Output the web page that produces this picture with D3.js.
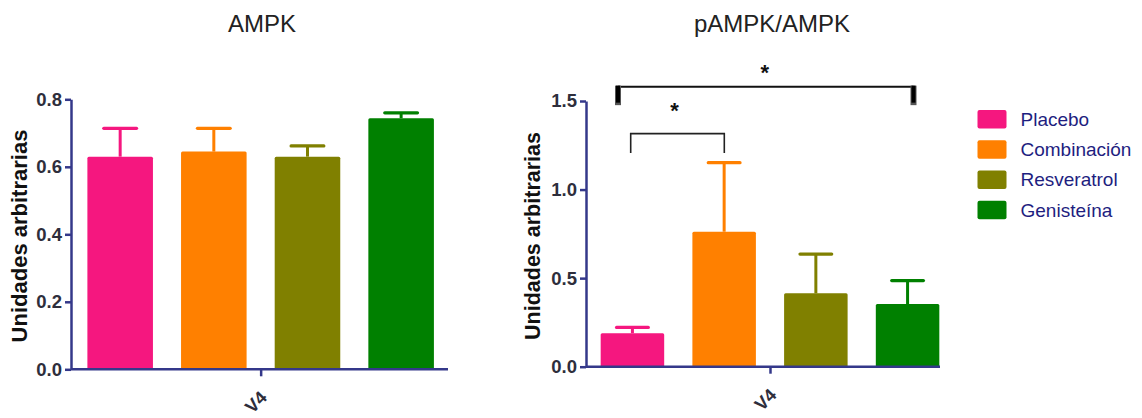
<!DOCTYPE html>
<html><head><meta charset="utf-8">
<script src="https://cdn.jsdelivr.net/npm/d3@7"></script>
<style>body{margin:0;background:#fff;} svg{display:block;font-family:Arial,"Liberation Sans",sans-serif;}</style>
</head><body>
<svg id="c" width="1142" height="418"></svg>
<script>
const groups = ["Placebo","Combinación","Resveratrol","Genisteína"];
const colors = ["#f5177f","#ff8000","#808000","#008000"];
const xCategory = ["V4"];
const ampkMean = [0.630, 0.645, 0.630, 0.744];
const ampkErr  = [0.714, 0.714, 0.662, 0.760];
const ratioMean = [0.189, 0.762, 0.414, 0.354];
const ratioErr  = [0.222, 1.152, 0.636, 0.486];
const ampkTicks = [0, 0.2, 0.4, 0.6, 0.8];
const ratioTicks = [0, 0.5, 1.0, 1.5];
const titles = ["AMPK","pAMPK/AMPK"];
const yTitle = "Unidades arbitrarias";
// significance: [groupA, groupB, level]
const sigPairs = [["Placebo","Combinación",1.316],["Placebo","Genisteína",1.581]];

const svg = d3.select("#c");
const axisColor = "#34388a";

function panel(cfg){
  const g = svg.append("g");
  const y = d3.scaleLinear().domain([0, cfg.ymax]).range([cfg.y0, cfg.y1]);
  const x = d3.scaleBand().domain(groups).range([cfg.xr0, cfg.xr1]).paddingInner(cfg.pi).paddingOuter(cfg.po);
  const xc = d3.scalePoint().domain(xCategory).range([cfg.xr0, cfg.xr1]).padding(0.5);

  g.selectAll("rect.bar").data(groups).enter().append("rect")
    .attr("x", d=>x(d)).attr("width", x.bandwidth())
    .attr("y", (d,i)=>y(cfg.mean[i])).attr("height",(d,i)=>y(0)-y(cfg.mean[i]))
    .attr("fill",(d,i)=>colors[i]).attr("rx",1.5);
  groups.forEach((d,i)=>{
    const cx = x(d)+x.bandwidth()/2;
    g.append("line").attr("x1",cx).attr("x2",cx).attr("y1",y(cfg.mean[i])).attr("y2",y(cfg.err[i]))
      .attr("stroke",colors[i]).attr("stroke-width",3);
    g.append("line").attr("x1",cx-x.bandwidth()/4).attr("x2",cx+x.bandwidth()/4).attr("y1",y(cfg.err[i])).attr("y2",y(cfg.err[i]))
      .attr("stroke",colors[i]).attr("stroke-width",3.2).attr("stroke-linecap","round");
  });

  const ya = g.append("g").attr("transform",`translate(${cfg.ax},0)`)
    .call(d3.axisLeft(y).tickValues(cfg.ticks).tickFormat(d3.format(".1f")).tickSize(6).tickPadding(3).tickSizeOuter(0));
  ya.select(".domain").attr("stroke",axisColor).attr("stroke-width",2.5);
  ya.selectAll(".tick line").attr("stroke",axisColor).attr("stroke-width",2.5);
  ya.selectAll(".tick text").attr("fill","#2e2e3c").attr("font-size","18.5px").attr("font-weight","bold")
    .attr("font-family","Arial,'Liberation Sans',sans-serif");

  const xa = g.append("g").attr("transform",`translate(0,${cfg.y0})`)
    .call(d3.axisBottom(xc).tickSize(7).tickSizeOuter(0));
  xa.select(".domain").remove();
  xa.append("line").attr("x1",cfg.ax).attr("x2",cfg.axEnd).attr("y1",0).attr("y2",0)
    .attr("stroke",axisColor).attr("stroke-width",2.5);
  xa.selectAll(".tick line").attr("stroke",axisColor).attr("stroke-width",2.5);
  xa.selectAll(".tick text").attr("y",0).attr("dy",null)
    .attr("transform","translate(-5,33) rotate(-45)")
    .attr("text-anchor","middle").attr("dominant-baseline","central")
    .attr("fill","#2e2e3c").attr("font-size","18px").attr("font-weight","bold")
    .attr("font-family","Arial,'Liberation Sans',sans-serif");

  g.append("text").attr("x",cfg.tx).attr("y",31.5).attr("text-anchor","middle")
    .attr("font-size","24px").attr("fill","#222").text(cfg.title);
  g.append("text").attr("transform",`translate(${cfg.ytx},236) rotate(-90)`)
    .attr("text-anchor","middle").attr("font-size",cfg.yts).attr("font-weight","bold")
    .attr("fill","#111").text(yTitle);
  return {x,y,g};
}

panel({ymax:0.8, y0:369.3, y1:99.3, xr0:71, xr1:450.3, pi:0.3, po:0.175, ax:71, axEnd:448,
  mean:ampkMean, err:ampkErr, ticks:ampkTicks, title:titles[0], tx:262, ytx:26.5, yts:"22px"});
const p2 = panel({ymax:1.5, y0:366.7, y1:101, xr0:586, xr1:954, pi:0.3075, po:0.16, ax:586, axEnd:940,
  mean:ratioMean, err:ratioErr, ticks:ratioTicks, title:titles[1], tx:772, ytx:540, yts:"21.5px"});

{
  const {x,y,g} = p2;
  const s = sigPairs[0];
  const xa1 = 630.7, xb1 = 724.3;
  const ys = y(s[2]);
  g.append("path").attr("d",`M${xa1},${ys+19.5}V${ys}H${xb1}V${ys+19.5}`)
    .attr("fill","none").attr("stroke","#222").attr("stroke-width",1.6);
  g.append("text").attr("x",(xa1+xb1)/2 - 3).attr("y",ys-23).attr("text-anchor","middle").attr("dominant-baseline","central")
    .attr("font-size","22px").attr("font-weight","bold").attr("fill","#111").text("*");
  const b = sigPairs[1];
  const xa2 = 618, xb2 = 913.5;
  const yb = y(b[2]);
  g.append("line").attr("x1",xa2).attr("x2",xb2).attr("y1",yb).attr("y2",yb).attr("stroke","#111").attr("stroke-width",2);
  [xa2,xb2].forEach(xx=>{
    g.append("line").attr("x1",xx).attr("x2",xx).attr("y1",yb-1).attr("y2",yb+18.5)
      .attr("stroke","#555").attr("stroke-width",6);
    g.append("line").attr("x1",xx).attr("x2",xx).attr("y1",yb-1).attr("y2",yb+16)
      .attr("stroke","#000").attr("stroke-width",4);
  });
  g.append("text").attr("x",(xa2+xb2)/2-1).attr("y",yb-14).attr("text-anchor","middle").attr("dominant-baseline","central")
    .attr("font-size","22px").attr("font-weight","bold").attr("fill","#111").text("*");
}

const lg = svg.append("g");
const ly = d3.scalePoint().domain(groups).range([119.3, 210]);
groups.forEach((d,i)=>{
  lg.append("rect").attr("x",977.5).attr("y",ly(d)-9.3).attr("width",29).attr("height",18.5).attr("rx",2)
    .attr("fill",colors[i]);
  lg.append("text").attr("x",1020.5).attr("y",ly(d)).attr("dominant-baseline","central")
    .attr("font-size","19px").attr("fill","#1e1e80").text(d);
});
</script>
</body></html>
